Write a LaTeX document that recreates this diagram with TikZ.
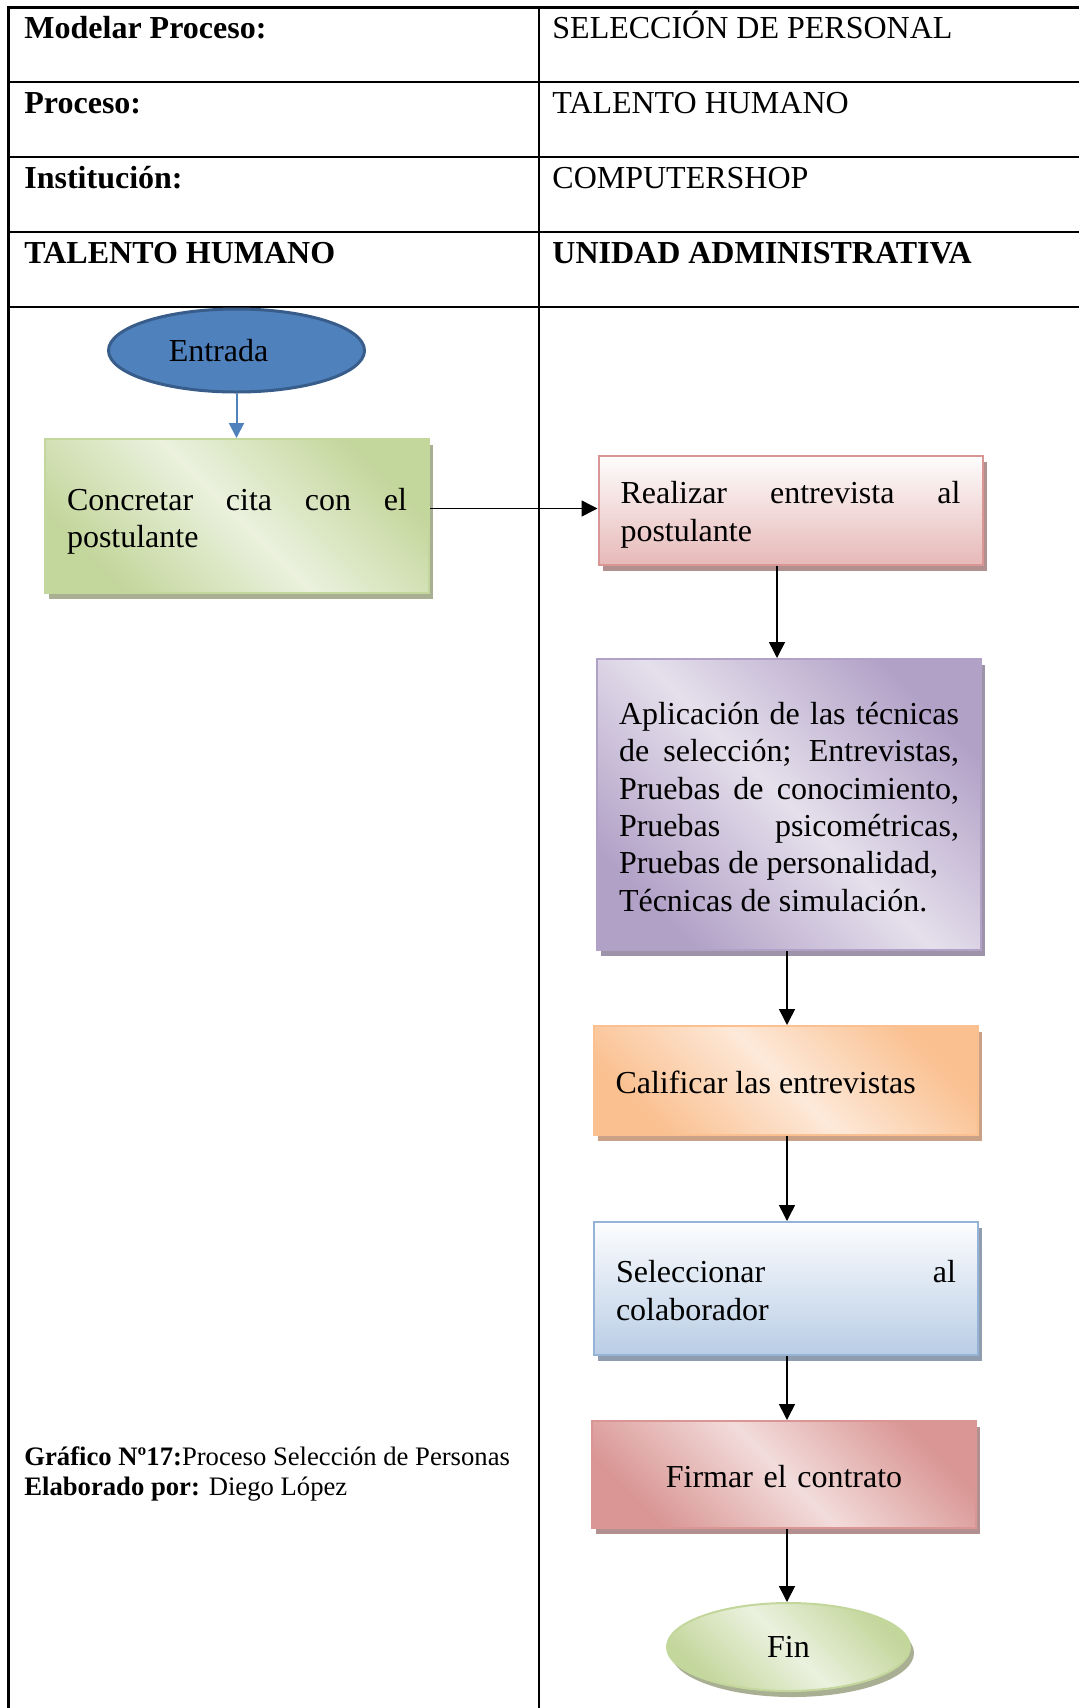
\documentclass[tikz,border=0pt]{standalone}
\usepackage{fontspec}
\setmainfont{Liberation Serif}
\usetikzlibrary{shapes.geometric,shadows,arrows.meta}

% palette
\definecolor{grnDark}{HTML}{C3D69B}
\definecolor{grnLight}{HTML}{EBF1DE}
\definecolor{grnShadow}{HTML}{A8AF93}
\definecolor{rosDark}{HTML}{D99694}
\definecolor{rosMid}{HTML}{E6B9B8}
\definecolor{rosLight}{HTML}{F2DCDB}
\definecolor{rosShadow}{HTML}{B39090}
\definecolor{lilDark}{HTML}{B2A1C7}
\definecolor{lilLight}{HTML}{E5E0EC}
\definecolor{lilShadow}{HTML}{9D94A9}
\definecolor{orgDark}{HTML}{FAC090}
\definecolor{orgLight}{HTML}{FDE9D9}
\definecolor{orgShadow}{HTML}{C9A187}
\definecolor{bluDark}{HTML}{95B3D7}
\definecolor{bluMid}{HTML}{B9CDE5}
\definecolor{bluShadow}{HTML}{8F9DAF}
\definecolor{entFill}{HTML}{4F81BD}
\definecolor{entLine}{HTML}{385D8A}

\newcommand\bodysize{\fontsize{16}{18.7}\selectfont}
\newcommand\notesize{\fontsize{13.33}{15}\selectfont}

\hyphenpenalty=10000
\exhyphenpenalty=10000
\tolerance=10000
\hbadness=10000

\begin{document}
\begin{tikzpicture}[x=0.5pt,y=-0.5pt,
  grid/.style={line width=1.2pt,line cap=rect},
  head/.style={anchor=base west,inner sep=0pt,font=\bodysize},
  headbf/.style={anchor=base west,inner sep=0pt,font=\bfseries\bodysize},
  note/.style={anchor=base west,inner sep=0pt,font=\notesize},
  stepbox/.style={rectangle,draw=#1,line width=1pt,minimum width=192pt,
    text width=170pt,inner xsep=11pt,inner ysep=0pt,align=justify,font=\bodysize},
  % a taller first line sets the text block a little lower in its box
  lower/.style={execute at begin node={\rule{0pt}{#1}}},
  diag/.style 2 args={left color=#1,right color=#1,middle color=#2,shading angle=135},
  vert/.style={top color=#1!4!white,bottom color=#1},
  dropc/.style={drop shadow={shadow xshift=2pt,shadow yshift=-3pt,fill=#1,opacity=1}},
  arr/.style={line width=0.75pt,-{Triangle[length=8pt,width=8pt]}},
  bluearr/.style={draw=entFill,line width=1pt,-{Triangle[length=7.5pt,width=7.5pt]}}
]
\useasboundingbox (0,0) rectangle (1078,1708);

% table frame
\draw[grid] (8.5,7.5) -- (8.5,1712);
\draw[grid] (539,7.5) -- (539,1712);
\foreach \yy in {7.5,81.7,156.7,231.7,306.7}
  \draw[grid] (8.5,\yy) -- (1080,\yy);

% table headings
\node[headbf] (lblModel) at (24,38) {Modelar Proceso:};
\node[head]   (valModel) at (552,38) {SELECCIÓN DE PERSONAL};
\node[headbf] (lblProc)  at (24,113) {Proceso:};
\node[head]   (valProc)  at (552,113) {TALENTO HUMANO};
\node[headbf] (lblInst)  at (24,188) {Institución:};
\node[head]   (valInst)  at (552,188) {COMPUTERSHOP};
\node[headbf] (laneL)    at (24,263) {TALENTO HUMANO};
\node[headbf] (laneR)    at (552,263) {UNIDAD ADMINISTRATIVA};

% flow shapes
\node[ellipse,draw=entLine,line width=1.5pt,fill=entFill,minimum width=128pt,
  minimum height=41.5pt,inner sep=0pt,font=\bodysize] (entrada) at (236.5,350.5)
  {Entrada\hspace*{18pt}};

\node[stepbox=grnDark,diag={grnDark}{grnLight},dropc=grnShadow,minimum height=77pt,
  lower=16.4pt] (cita) at (237,516) {Concretar cita con el\linebreak postulante};

\node[stepbox=rosDark,vert=rosMid,dropc=rosShadow,minimum height=54.5pt,lower=15.3pt]
  (entrevista) at (790.5,510.5) {Realizar entrevista al\linebreak postulante};

\node[stepbox=lilDark,diag={lilDark}{lilLight},dropc=lilShadow,minimum height=145.5pt,
  lower=13.6pt] (tecnicas) at (789,804.5)
  {Aplicación de las técnicas\linebreak de selección; Entrevistas,\linebreak
   Pruebas de conocimiento,\linebreak Pruebas psicométricas,\linebreak
   Pruebas de personalidad,\par Técnicas de simulación.};

\node[stepbox=orgDark,diag={orgDark}{orgLight},dropc=orgShadow,minimum height=54.5pt,
  lower=13.1pt] (calificar) at (785.5,1080.5) {Calificar las entrevistas};

\node[stepbox=bluDark,vert=bluMid,dropc=bluShadow,minimum height=66.5pt,lower=13.1pt]
  (seleccionar) at (786,1288.5) {Seleccionar al\linebreak colaborador};

\node[stepbox=rosDark,diag={rosDark}{rosLight},dropc=rosShadow,minimum height=53.5pt,
  align=center,lower=13.1pt] (firmar) at (784,1474.5) {Firmar el contrato};

\node[ellipse,draw=grnDark,line width=1pt,diag={grnDark}{grnLight},dropc=grnShadow,
  minimum width=121.5pt,minimum height=44pt,inner sep=0pt,font=\bodysize]
  (fin) at (788.5,1647) {Fin};

% caption
\node[note] (grafico) at (24,1465) {\textbf{Gráfico Nº17:}Proceso Selección de Personas};
\node[note] (autor)   at (24,1495.5) {\textbf{Elaborado por:} Diego López};

% connectors
\coordinate (spine) at (787,0);
\coordinate (drop) at (777,0);
\draw[bluearr] (entrada.south) -- (entrada.south |- cita.north);
\draw[arr] ([yshift=1pt]cita.east |- entrevista.west) -- ([yshift=1pt]entrevista.west);
\draw[arr] (drop |- entrevista.south) -- (drop |- tecnicas.north);
\draw[arr] (spine |- tecnicas.south) -- (spine |- calificar.north);
\draw[arr] (spine |- calificar.south) -- (spine |- seleccionar.north);
\draw[arr] (spine |- seleccionar.south) -- (spine |- firmar.north);
\draw[arr] (spine |- firmar.south) -- (spine |- fin.north);
\end{tikzpicture}
\end{document}
